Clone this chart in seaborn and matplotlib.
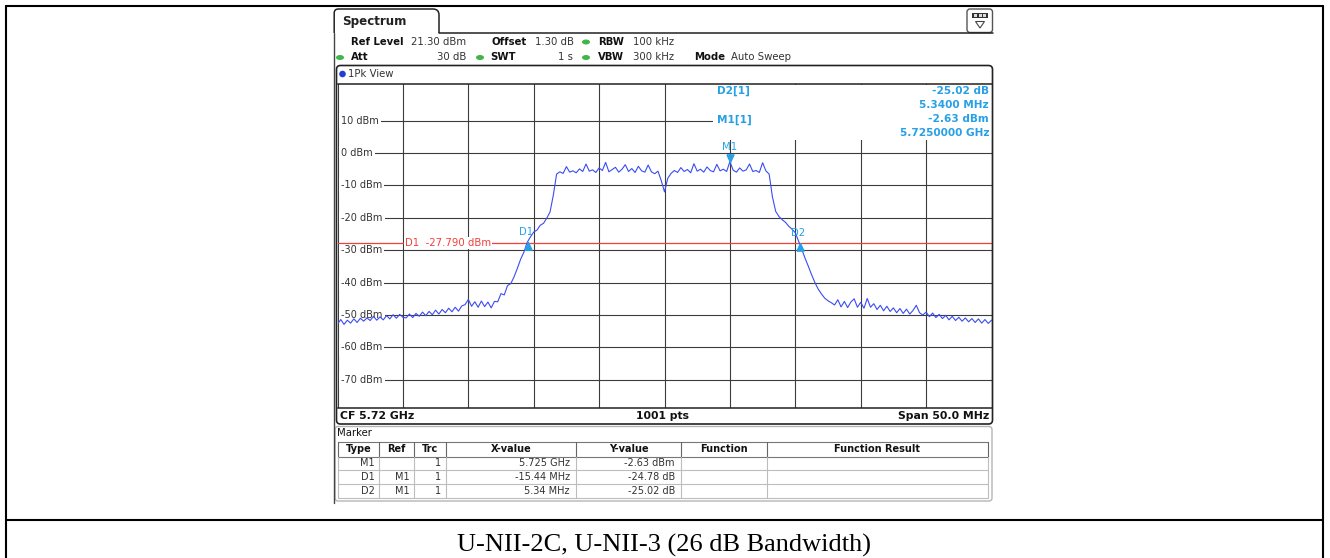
import numpy as np
import pandas as pd
import matplotlib
matplotlib.use("Agg")
import matplotlib.pyplot as plt
import seaborn as sns
from matplotlib.transforms import Affine2D, blended_transform_factory
from matplotlib.patches import FancyBboxPatch, Rectangle, Circle, PathPatch, Polygon, Ellipse
from matplotlib.path import Path
from matplotlib.lines import Line2D

# ---------------- data ----------------
start_mhz = 5695.0
step_mhz = 0.25
level_dbm = [
    # 5695.00 - 5700.00
    -52.8, -51.4, -52.9, -51.6, -52.5, -51.2, -52.3, -51.0, -51.9, -50.9, -51.7,
    -50.4, -51.6, -50.6, -51.5, -50.2, -51.2, -49.9, -51.0, -49.8, -50.7,
    # 5700.25 - 5705.00
    -50.9, -49.7, -50.8, -49.5, -50.4, -49.1, -50.2, -48.9, -49.9, -48.5,
    -49.7, -48.3, -49.3, -47.9, -49.0, -47.6, -48.8, -47.2, -46.8, -45.2,
    # 5705.25 - 5707.00
    -47.3, -45.9, -47.6, -45.7, -47.4, -46.0, -47.8, -45.8,
    # 5707.25 - 5711.75 (rising edge)
    -45.9, -43.4, -43.8, -40.9, -40.3, -38.2, -35.6, -32.8, -30.6, -27.6,
    -25.9, -24.4, -23.8, -22.3, -21.7, -20.1, -18.2, -13.0, -6.5,
    # 5712.00 - 5727.75 (channel)
    -5.8, -6.3, -4.2, -5.9, -5.5, -6.1, -4.9, -5.7, -3.4, -5.6, -5.2, -6.0,
    -4.6, -5.4, -2.9, -5.8, -5.1, -4.4, -5.9, -5.0, -3.6, -5.7, -4.8, -6.0,
    -4.1, -5.5, -5.9, -3.7, -5.8, -6.4, -5.6, -8.5, -12.0, -7.8, -6.3, -5.4,
    -6.0, -4.5, -5.7, -5.1, -6.1, -3.3, -5.6, -5.0, -5.9, -4.3, -5.4, -5.8,
    -3.5, -5.5, -5.0, -5.7, -2.63, -5.3, -5.9, -4.6, -5.6, -5.2, -3.4, -5.7,
    -5.4, -6.0, -3.0, -5.5,
    # 5728.00 - 5732.75 (falling edge)
    -6.5, -13.5, -18.0, -19.6, -20.6, -21.4, -22.6, -23.5, -24.6, -27.2,
    -29.8, -32.5, -35.0, -37.6, -40.0, -42.0, -43.5, -44.8, -45.6, -46.2,
    # 5733.00 - 5745.00
    -46.9, -45.3, -47.5, -45.8, -47.7, -46.0, -45.0, -47.6, -46.1, -47.9,
    -44.9, -47.6, -46.5, -48.3, -47.0, -48.7, -47.3, -48.9, -47.8, -49.3,
    -48.0, -49.5, -48.2, -49.7, -48.6, -47.0, -49.3, -50.0, -49.1, -50.5,
    -49.4, -50.8, -49.8, -51.1, -50.1, -51.5, -50.4, -51.7, -50.7, -51.9,
    -50.9, -52.1, -51.1, -52.3, -51.2, -52.5, -51.4, -52.6, -51.6,
]
grid_freq_mhz = [5695, 5700, 5705, 5710, 5715, 5720, 5725, 5730, 5735, 5740, 5745]
grid_level_dbm = [10, 0, -10, -20, -30, -40, -50, -60, -70]
ytick_labels = ["10 dBm", "0 dBm", "-10 dBm", "-20 dBm", "-30 dBm",
                "-40 dBm", "-50 dBm", "-60 dBm", "-70 dBm"]
ref_level_dbm = 21.3
bottom_level_dbm = -78.7
d1_line_dbm = -27.79

marker_type = ["M1", "D1", "D2"]
marker_ref = ["", "M1", "M1"]
marker_trc = ["1", "1", "1"]
marker_x_text = ["5.725 GHz", "-15.44 MHz", "5.34 MHz"]
marker_y_text = ["-2.63 dBm", "-24.78 dB", "-25.02 dB"]
marker_freq_mhz = [5725.0, 5709.56, 5730.34]
marker_level_dbm = [-2.63, -27.41, -27.65]

table_headers = ["Type", "Ref", "Trc", "X-value", "Y-value", "Function", "Function Result"]

freq_mhz = start_mhz + step_mhz * np.arange(len(level_dbm))
df = pd.DataFrame({"freq": freq_mhz, "level": level_dbm})

# ---------------- style ----------------
sns.set_theme(style="white")
plt.rcParams['font.family'] = ['DejaVu Sans']

TRACE = "#3b4cf2"
MBLUE = "#27a0e6"
RED = "#f0403c"
GRID = "#3c3c3c"
FRAME = "#222222"
GREEN = "#3fb54a"

W, H = 1330, 558
fig = plt.figure(figsize=(W / 100, H / 100), dpi=100)
fig.patch.set_facecolor("white")
pix = Affine2D().scale(1 / W, -1 / H).translate(0, 1) + fig.transFigure

def ftext(x, y, s, **kw):
    kw.setdefault("va", "center")
    kw.setdefault("ha", "left")
    kw.setdefault("fontsize", 7.3)
    kw.setdefault("color", "#222222")
    return fig.text(x, y, s, transform=pix, **kw)

def fline(xs, ys, **kw):
    fig.add_artist(Line2D(xs, ys, transform=pix, **kw))

# ---------------- spectrum axes ----------------
L, R, T, B = 337.5, 991.5, 84.0, 408.0
ax = fig.add_axes([L / W, 1 - B / H, (R - L) / W, (B - T) / H])
sns.lineplot(data=df, x="freq", y="level", ax=ax, color=TRACE, linewidth=0.8,
             estimator=None, sort=False, zorder=3)
ax.set_xlim(grid_freq_mhz[0], grid_freq_mhz[-1])
ax.set_ylim(bottom_level_dbm, ref_level_dbm)
ax.set_xticks(grid_freq_mhz)
ax.set_yticks(grid_level_dbm)
ax.tick_params(length=0, labelbottom=False, labelleft=False)
ax.set_xlabel("")
ax.set_ylabel("")
ax.grid(True, color=GRID, linewidth=0.8)
ax.set_axisbelow(True)
for s in ("left", "right"):
    ax.spines[s].set_visible(False)
for s in ("top", "bottom"):
    ax.spines[s].set_color(FRAME)
    ax.spines[s].set_linewidth(1.1)

blend = blended_transform_factory(pix, ax.transData)
for lvl, lab in zip(grid_level_dbm, ytick_labels):
    ax.text(341, lvl, lab, transform=blend, ha="left", va="center", fontsize=7,
            color="#333333", zorder=2,
            bbox=dict(facecolor="white", edgecolor="none", pad=1.6))

ax.axhline(d1_line_dbm, color=RED, linewidth=0.9, zorder=2.2)
ax.text(405, d1_line_dbm, "D1  -27.790 dBm", transform=blend, ha="left", va="center",
        fontsize=7.3, color=RED, zorder=2.3,
        bbox=dict(facecolor="white", edgecolor="none", pad=0.8))

# marker info box
ax.add_patch(Rectangle((713, 84.6), 280, 55, transform=pix, facecolor="white",
                       edgecolor="none", zorder=2.5))
info = [("D2[1]", "-25.02 dB", 91), ("", "5.3400 MHz", 104.5),
        ("M1[1]", "-2.63 dBm", 119.5), ("", "5.7250000 GHz", 133)]
for left, right, yy in info:
    if left:
        ax.text(717, yy, left, transform=pix, ha="left", va="center", fontsize=7.6,
                color=MBLUE, fontweight="bold", zorder=4)
    ax.text(989, yy, right, transform=pix, ha="right", va="center", fontsize=7.6,
            color=MBLUE, fontweight="bold", zorder=4)

down_tri = [(-0.55, 1.2), (0.55, 1.2), (0.0, 0.0), (-0.55, 1.2)]
up_tri = [(-0.55, -1.2), (0.55, -1.2), (0.0, 0.0), (-0.55, -1.2)]
for name, fq, lv in zip(marker_type, marker_freq_mhz, marker_level_dbm):
    mk = down_tri if name == "M1" else up_tri
    ax.plot([fq], [lv], marker=mk, markersize=11, color=MBLUE, linestyle="none", zorder=4)
    dy = 10.5 if name == "M1" else 7.0
    dx = 0 if name == "M1" else -1.5
    ax.annotate(name, xy=(fq, lv), xytext=(dx, dy), textcoords="offset points",
                ha="center", va="center", fontsize=7.3, color=MBLUE, zorder=4)

# ---------------- outer document table ----------------
fline([5.5, 5.5], [5.5, 558], color="black", linewidth=1.5)
fline([1322.5, 1322.5], [5.5, 558], color="black", linewidth=1.5)
fline([5.5, 1322.5], [5.5, 5.5], color="black", linewidth=1.5)
fline([5.5, 1322.5], [520, 520], color="black", linewidth=1.5)
ftext(664, 545, "U-NII-2C, U-NII-3 (26 dB Bandwidth)", ha="center",
      family=["Liberation Serif"], fontsize=19, color="black")

# ---------------- screenshot chrome ----------------
fline([333.8, 333.8], [33, 503], color="#444444", linewidth=1.0)
tab = Path([(334.2, 33), (334.2, 13), (334.2, 9), (338.5, 9), (433, 9), (439, 9),
            (439, 15), (439, 33)],
           [Path.MOVETO, Path.LINETO, Path.CURVE3, Path.CURVE3, Path.LINETO,
            Path.CURVE3, Path.CURVE3, Path.LINETO])
fig.add_artist(PathPatch(tab, transform=pix, facecolor="none", edgecolor=FRAME, linewidth=1.1))
fline([439, 993], [33, 33], color=FRAME, linewidth=1.1)
ftext(342, 21, "Spectrum", fontsize=8.6, fontweight="bold", color="#222222")

# icon
fig.add_artist(FancyBboxPatch((967, 9), 25.5, 23.5, boxstyle="round,pad=0,rounding_size=3",
                              transform=pix, facecolor="white", edgecolor="#555555", linewidth=1.0))
fig.add_artist(Rectangle((972, 13), 16, 5, transform=pix, facecolor="#333333", edgecolor="none"))
for xx in (974, 978.5, 983):
    fig.add_artist(Rectangle((xx, 14.3), 3, 2.4, transform=pix, facecolor="#dddddd", edgecolor="none"))
fig.add_artist(Polygon([(975.5, 21.5), (984.5, 21.5), (980, 28)], closed=True, transform=pix,
                       facecolor="none", edgecolor="#444444", linewidth=0.8))

# header
bold_items = [("Ref Level", 351, 42), ("Offset", 491, 42), ("RBW", 598, 42),
              ("Att", 351, 57.5), ("SWT", 490, 57.5), ("VBW", 598, 57.5), ("Mode", 694, 57.5)]
for s, xx, yy in bold_items:
    ftext(xx, yy, s, fontweight="bold", color="#111111", fontsize=7.3)
norm_items = [("21.30 dBm", 411, 42, "left"), ("1.30 dB", 535, 42, "left"),
              ("100 kHz", 633, 42, "left"), ("30 dB", 466, 57.5, "right"),
              ("1 s", 573, 57.5, "right"), ("300 kHz", 633, 57.5, "left"),
              ("Auto Sweep", 731, 57.5, "left")]
for s, xx, yy, ha in norm_items:
    ftext(xx, yy, s, ha=ha, color="#333333", fontsize=7.3)
for xx, yy in [(586, 42), (340, 57.5), (480, 57.5), (586, 57.5)]:
    fig.add_artist(Ellipse((xx, yy), 8, 5, transform=pix, facecolor=GREEN, edgecolor="none"))

# graph frame
fig.add_artist(FancyBboxPatch((336.5, 65.5), 656, 358.5, boxstyle="round,pad=0,rounding_size=4",
                              transform=pix, facecolor="none", edgecolor=FRAME, linewidth=1.2))
fig.add_artist(Circle((342.5, 74), 3.3, transform=pix, facecolor="#1f3fd8", edgecolor="none"))
ftext(347.5, 74, "1Pk View", color="#333333", fontsize=7.3)

ftext(340, 416, "CF 5.72 GHz", fontweight="bold", fontsize=7.8, color="#111111")
ftext(662, 416, "1001 pts", ha="center", fontweight="bold", fontsize=7.8, color="#111111")
ftext(989, 416, "Span 50.0 MHz", ha="right", fontweight="bold", fontsize=7.8, color="#111111")

# marker table
fig.add_artist(FancyBboxPatch((335, 426.5), 657, 74.5, boxstyle="round,pad=0,rounding_size=3",
                              transform=pix, facecolor="none", edgecolor="#b5b5b5", linewidth=1.0))
ftext(337.5, 433.5, "Marker", color="#111111", fontsize=7.3)
col_edges = [338, 379, 414, 446, 576, 681, 766.5, 988]
row_lines = [441.5, 456.5, 469.5, 483.5, 497.5]
for i, yy in enumerate(row_lines):
    fline([338, 988], [yy, yy], color="#777777" if i < 2 else "#bdbdbd", linewidth=0.8)
for xx in col_edges:
    fline([xx, xx], [441.5, 456.5], color="#666666", linewidth=0.8)
    fline([xx, xx], [456.5, 497.5], color="#bdbdbd", linewidth=0.8)
for j, hd in enumerate(table_headers):
    ftext((col_edges[j] + col_edges[j + 1]) / 2, 449, hd, ha="center",
          fontweight="bold", fontsize=7, color="#111111")
row_y = [462.8, 476.8, 490.5]
for i in range(len(marker_type)):
    ftext(375, row_y[i], marker_type[i], ha="right", fontsize=7, color="#333333")
    ftext(410, row_y[i], marker_ref[i], ha="right", fontsize=7, color="#333333")
    ftext(441, row_y[i], marker_trc[i], ha="right", fontsize=7, color="#333333")
    ftext(570, row_y[i], marker_x_text[i], ha="right", fontsize=7, color="#333333")
    ftext(675, row_y[i], marker_y_text[i], ha="right", fontsize=7, color="#333333")

fig.savefig("out.png", dpi=100, facecolor="white")
